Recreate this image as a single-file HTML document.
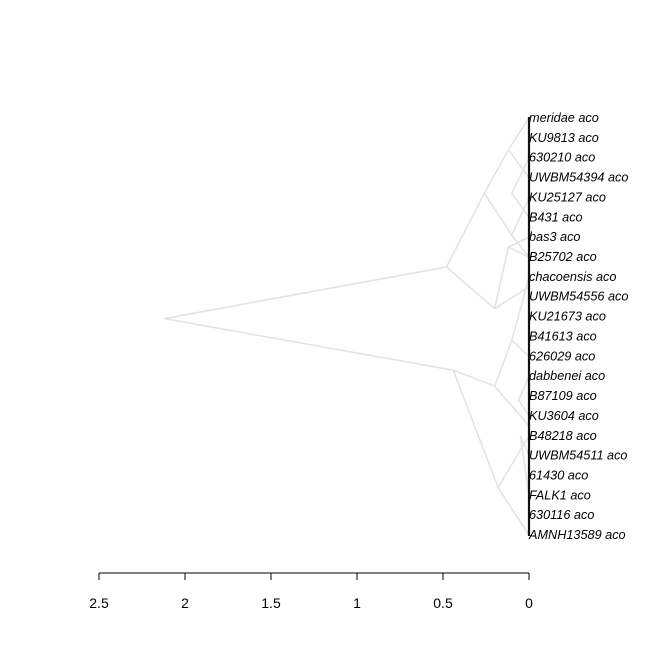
<!DOCTYPE html>
<html><head><meta charset="utf-8"><style>
body{margin:0;background:#fff}
svg{display:block;font-family:"Liberation Sans",sans-serif}
</style></head><body>
<svg id="chart" width="672" height="672">
<g id="edges"></g>
<line x1="529" y1="117" x2="529" y2="536" stroke="#111" stroke-width="2.2"/>
<g id="labels"></g>
<g id="axis"></g>
</svg>
<script>
const tipLabels=["meridae aco","KU9813 aco","630210 aco","UWBM54394 aco","KU25127 aco","B431 aco","bas3 aco","B25702 aco","chacoensis aco","UWBM54556 aco","KU21673 aco","B41613 aco","626029 aco","dabbenei aco","B87109 aco","KU3604 aco","B48218 aco","UWBM54511 aco","61430 aco","FALK1 aco","630116 aco","AMNH13589 aco"];
const axisTicks=[2.5,2,1.5,1,0.5,0];
// edges: [parentHeight, parentTipPos, childHeight, childTipPos] (tip positions in tip-index units)
const edgeParentH=[2.12,2.12,0.48,0.48,0.26,0.26,0.12,0.12,0.10,0.10,0.44,0.44,0.20,0.20,0.18,0.18,0.10,0.10,0.20,0.20,0.10,0.10,0.12,0.12,0.06,0.06,0.05,0.05];
const edgeParentY=[10.1,10.1,7.5,7.5,3.8,3.8,1.6,1.6,5.9,5.9,12.7,12.7,13.5,13.5,18.6,18.6,11.2,11.2,9.6,9.6,3.8,3.8,6.5,6.5,14.2,14.2,16.0,16.0];
const edgeChildH=[0.48,0.44,0.26,0.20,0.12,0.10,0,0,0,0,0.20,0.18,0.10,0,0,0,0,0,0,0.12,0,0,0,0,0,0,0,0];
const edgeChildY=[7.5,12.7,3.8,9.6,1.6,5.9,0,3,4,7,13.5,18.6,11.2,15.5,21,16,8,12,8.5,6.5,2,5,6,7,13,15,17,19];
const X=h=>529-h*172, Y=i=>118+i*19.86;
const eg=document.getElementById('edges');
for(let k=0;k<edgeParentH.length;k++){
 const l=document.createElementNS('http://www.w3.org/2000/svg','line');
 l.setAttribute('x1',X(edgeParentH[k]));l.setAttribute('y1',Y(edgeParentY[k]));
 l.setAttribute('x2',X(edgeChildH[k]));l.setAttribute('y2',Y(edgeChildY[k]));
 l.setAttribute('stroke','#e2e2e2');l.setAttribute('stroke-width','1.5');
 
 
 eg.appendChild(l);
}
const lg=document.getElementById('labels');
tipLabels.forEach((t,i)=>{
 const e=document.createElementNS('http://www.w3.org/2000/svg','text');
 e.setAttribute('x',529);e.setAttribute('y',Y(i)+4);
 e.setAttribute('font-size','12.7');e.setAttribute('font-style','italic');e.setAttribute('fill','#000');
 e.textContent=t;
 
 
 lg.appendChild(e);
});
const ag=document.getElementById('axis');
let s=`<line x1="${X(2.5)}" y1="573" x2="${X(0)}" y2="573" stroke="#000" stroke-width="1"/>`;
axisTicks.forEach(v=>{s+=`<line x1="${X(v)}" y1="573" x2="${X(v)}" y2="580" stroke="#000"/><text x="${X(v)}" y="608" font-size="14" text-anchor="middle">${v}</text>`;});
ag.innerHTML=s;
</script>
</body></html>
